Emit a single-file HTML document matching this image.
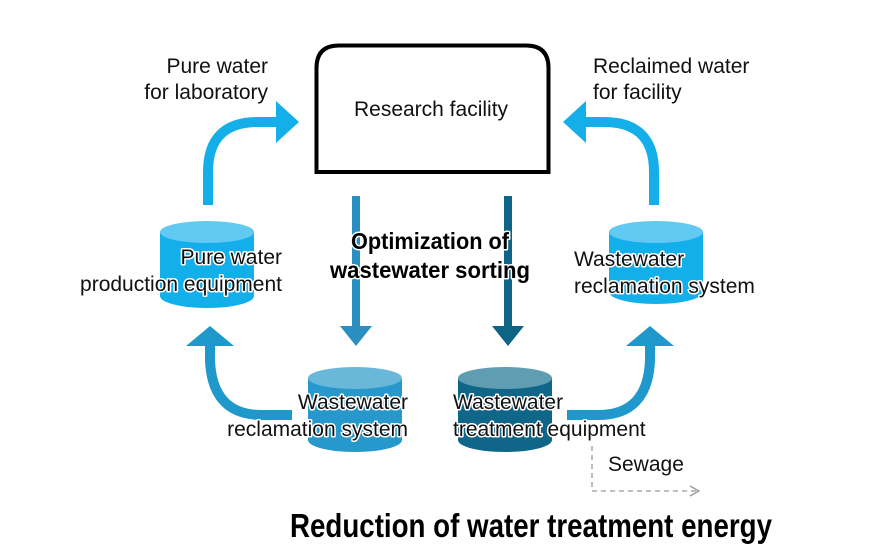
<!DOCTYPE html>
<html><head><meta charset="utf-8"><style>
html,body{margin:0;padding:0;background:#fff;width:896px;height:560px;overflow:hidden}
svg{display:block}
.t{font-family:"Liberation Sans",sans-serif;font-size:21px;fill:#111}
.h{paint-order:stroke;stroke:#fff;stroke-width:3px;stroke-linejoin:round}
.b{font-family:"Liberation Sans Narrow","Liberation Sans",sans-serif;font-weight:bold;fill:#000}
</style></head><body>
<svg width="896" height="560" viewBox="0 0 896 560">
<path d="M316.5,172 L316.5,68 Q316.5,45.5 339,45.5 L526,45.5 Q548.5,45.5 548.5,68 L548.5,172 Z" fill="#fff" stroke="#000" stroke-width="4"/>
<text class="t" x="431" y="116" text-anchor="middle">Research facility</text>
<text class="t" x="268" y="73" text-anchor="end">Pure water</text>
<text class="t" x="268" y="99" text-anchor="end">for laboratory</text>
<text class="t" x="593" y="73">Reclaimed water</text>
<text class="t" x="593" y="99">for facility</text>

<path d="M208,205 L208,172 Q208,122 258,122 L278,122" fill="none" stroke="#14aee9" stroke-width="10"/>
<polygon points="276,101 299,122 276,143" fill="#14aee9"/>
<path d="M654,205 L654,172 Q654,122 604,122 L584,122" fill="none" stroke="#14aee9" stroke-width="10"/>
<polygon points="586,101 563,122 586,143" fill="#14aee9"/>

<rect x="352" y="196" width="8" height="132" fill="#2a8fc0"/>
<polygon points="340,326 372,326 356,346" fill="#2a8fc0"/>
<rect x="504" y="196" width="8" height="132" fill="#0e6485"/>
<polygon points="492,326 524,326 508,346" fill="#0e6485"/>

<path d="M292,415 L262,415 Q212,415 210,360 L210,346" fill="none" stroke="#1f98cc" stroke-width="10"/>
<polygon points="186,346 234,346 210,326" fill="#1f98cc"/>
<path d="M567,415 L598,415 Q648,415 650,360 L650,346" fill="none" stroke="#1f98cc" stroke-width="10"/>
<polygon points="626,346 674,346 650,326" fill="#1f98cc"/>

<path d="M160,232 L160,296 A47,12 0 0 0 254,296 L254,232 Z" fill="#12afea"/>
<ellipse cx="207" cy="232" rx="47" ry="11" fill="#62caf2"/>
<path d="M609,232 L609,292 A47,12 0 0 0 703,292 L703,232 Z" fill="#12afea"/>
<ellipse cx="656" cy="232" rx="47" ry="11" fill="#62caf2"/>
<path d="M308,378 L308,440 A47,12 0 0 0 402,440 L402,378 Z" fill="#2798cc"/>
<ellipse cx="355" cy="378" rx="47" ry="11" fill="#6ab8d9"/>
<path d="M458,378 L458,440 A47,12 0 0 0 552,440 L552,378 Z" fill="#0f6688"/>
<ellipse cx="505" cy="378" rx="47" ry="11" fill="#5f9db3"/>

<text class="t h" x="282" y="264" text-anchor="end">Pure water</text>
<text class="t h" x="282" y="291" text-anchor="end">production equipment</text>
<text class="t h" x="574" y="266">Wastewater</text>
<text class="t h" x="574" y="293">reclamation system</text>
<text class="t h" x="408" y="409" text-anchor="end">Wastewater</text>
<text class="t h" x="408" y="436" text-anchor="end">reclamation system</text>
<text class="t h" x="453" y="409">Wastewater</text>
<text class="t h" x="453" y="436">treatment equipment</text>

<text class="b h" x="430" y="249" font-size="23" text-anchor="middle" textLength="158" lengthAdjust="spacingAndGlyphs">Optimization of</text>
<text class="b h" x="430" y="278" font-size="23" text-anchor="middle" textLength="200" lengthAdjust="spacingAndGlyphs">wastewater sorting</text>

<path d="M592,446 L592,491 L698,491" fill="none" stroke="#999" stroke-width="1.3" stroke-dasharray="5,4"/>
<path d="M690,486 L699,491 L690,496" fill="none" stroke="#999" stroke-width="1.3"/>
<text class="t" x="608" y="471" font-size="22">Sewage</text>

<text class="b" x="290" y="537" font-size="33" textLength="482" lengthAdjust="spacingAndGlyphs">Reduction of water treatment energy</text>
</svg>
</body></html>
